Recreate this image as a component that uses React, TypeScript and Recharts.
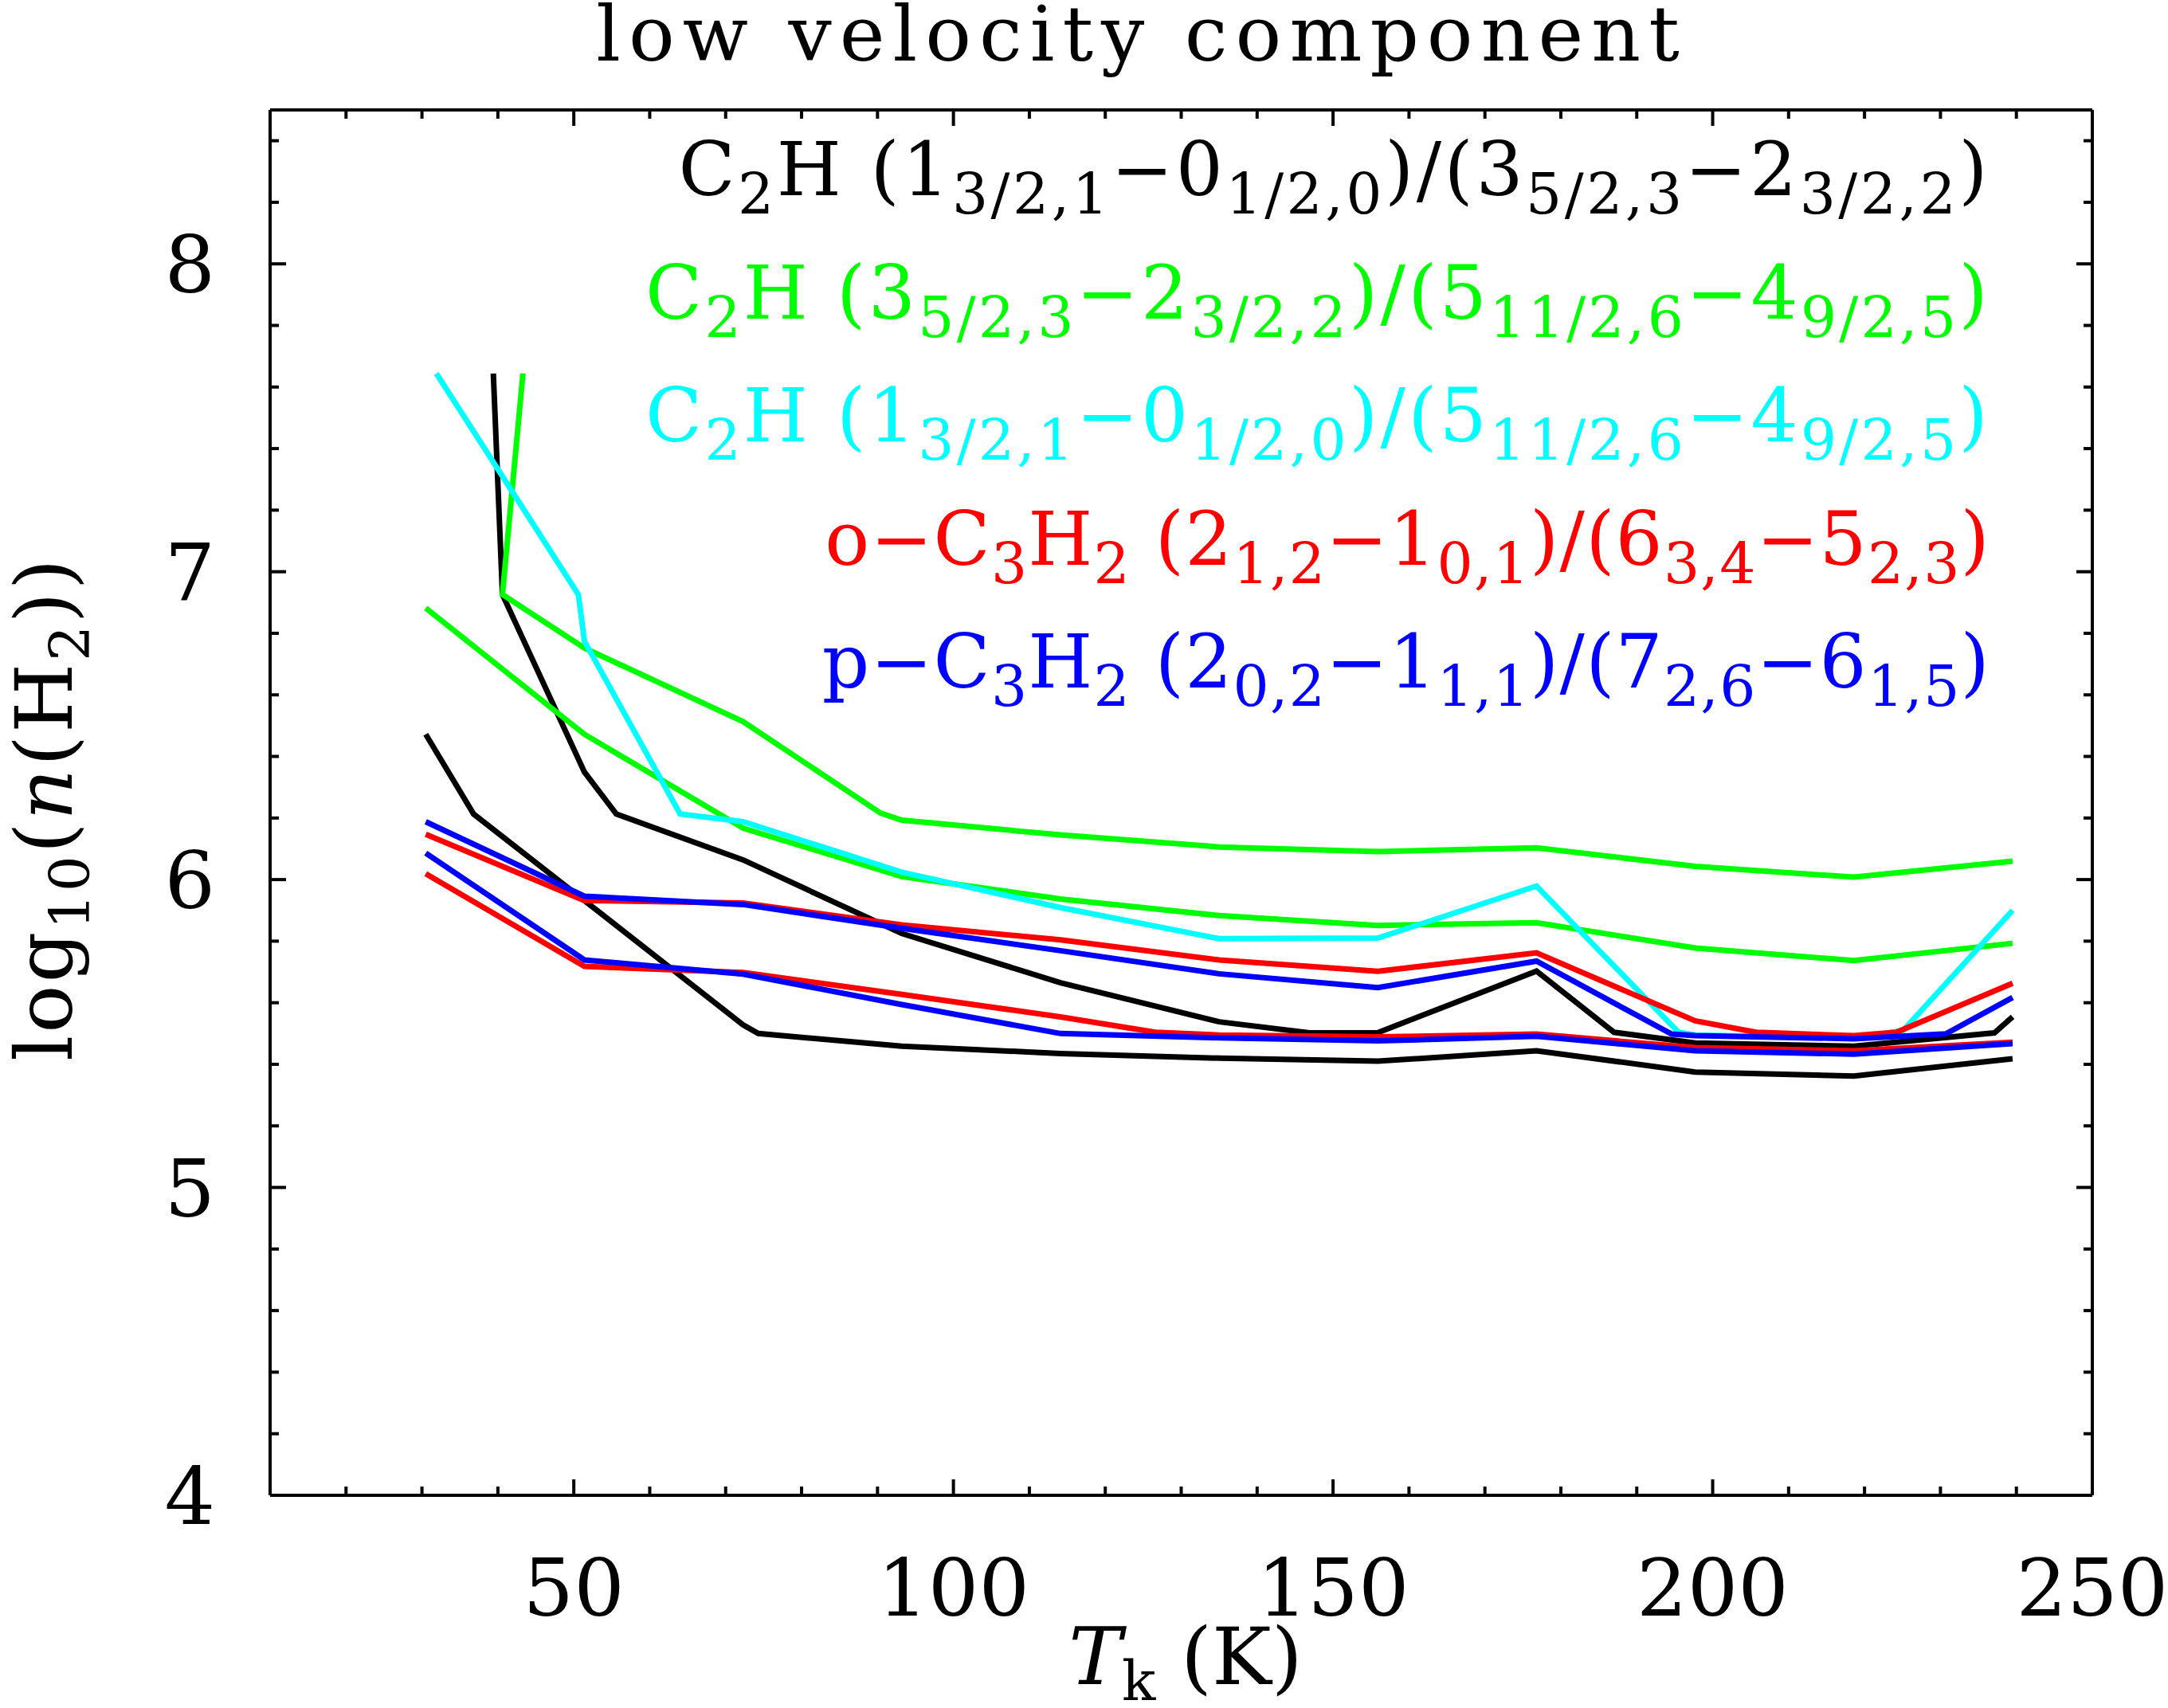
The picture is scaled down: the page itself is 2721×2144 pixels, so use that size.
import { LineChart, Line, XAxis, YAxis, Customized } from 'recharts';

const FONT = '"DejaVu Serif", serif';

// axis ticks
const tMajorTicks = [50, 100, 150, 200, 250];
const tMinorTicks = [20, 30, 40, 60, 70, 80, 90, 110, 120, 130, 140, 160, 170, 180, 190, 210, 220, 230, 240];
const nMajorTicks = [4, 5, 6, 7, 8];
const nMinorTicks = [4.2, 4.4, 4.6, 4.8, 5.2, 5.4, 5.6, 5.8, 6.2, 6.4, 6.6, 6.8, 7.2, 7.4, 7.6, 7.8, 8.2, 8.4];

// C2H (1-0)/(3-2), black
const c2h10_32_aT = [39.4, 40.6, 51.4, 55.6, 72.3, 93.2, 114.1, 135, 146.9, 155.9, 176.8, 187, 197.7, 218.6, 237.1, 239.5];
const c2h10_32_aN = [7.644, 6.926, 6.349, 6.213, 6.064, 5.825, 5.665, 5.538, 5.502, 5.503, 5.703, 5.504, 5.469, 5.459, 5.502, 5.554];
const c2h10_32_bT = [30.5, 36.8, 51.4, 72.3, 74.3, 93.2, 114.1, 135, 155.9, 176.8, 197.7, 218.6, 239.5];
const c2h10_32_bN = [6.472, 6.213, 5.932, 5.528, 5.5, 5.459, 5.435, 5.42, 5.41, 5.444, 5.375, 5.362, 5.418];

// C2H (3-2)/(5-4), green
const c2h32_54_aT = [43.3, 40.6, 51.4, 72.3, 90.4, 93.2, 114.1, 135, 155.9, 176.8, 197.7, 218.6, 239.5];
const c2h32_54_aN = [7.644, 6.926, 6.752, 6.513, 6.216, 6.193, 6.145, 6.106, 6.091, 6.103, 6.043, 6.008, 6.06];
const c2h32_54_bT = [30.5, 51.4, 72.3, 93.2, 114.1, 135, 155.9, 176.8, 197.7, 218.6, 239.5];
const c2h32_54_bN = [6.882, 6.472, 6.167, 6.01, 5.937, 5.883, 5.851, 5.86, 5.778, 5.737, 5.793];

// C2H (1-0)/(5-4), cyan
const c2h10_54_T = [31.9, 50.6, 51.4, 64.0, 72.3, 93.2, 114.1, 135, 155.9, 176.8, 195.5, 197.7, 218.6, 225.1, 239.5];
const c2h10_54_N = [7.644, 6.926, 6.774, 6.213, 6.188, 6.024, 5.909, 5.808, 5.81, 5.979, 5.504, 5.495, 5.485, 5.51, 5.9];

// o-C3H2 (2-1)/(6-5), red
const oc3h2_aT = [30.5, 51.4, 72.3, 93.2, 114.1, 135, 155.9, 176.8, 197.7, 205.7, 218.6, 224.2, 239.5];
const oc3h2_aN = [6.147, 5.932, 5.924, 5.853, 5.804, 5.739, 5.702, 5.762, 5.541, 5.504, 5.493, 5.504, 5.663];
const oc3h2_bT = [30.5, 51.4, 72.3, 93.2, 114.1, 126.6, 135, 155.9, 176.8, 197.7, 218.6, 239.5];
const oc3h2_bN = [6.019, 5.718, 5.698, 5.627, 5.554, 5.504, 5.495, 5.489, 5.498, 5.454, 5.444, 5.472];

// p-C3H2 (2-1)/(7-6), blue
const pc3h2_aT = [30.5, 51.4, 72.3, 93.2, 114.1, 135, 155.9, 176.8, 194.6, 197.7, 218.6, 230.7, 239.5];
const pc3h2_aN = [6.188, 5.946, 5.919, 5.842, 5.769, 5.694, 5.649, 5.735, 5.498, 5.493, 5.483, 5.499, 5.617];
const pc3h2_bT = [30.5, 51.4, 72.3, 93.2, 114.1, 135, 155.9, 176.8, 197.7, 218.6, 239.5];
const pc3h2_bN = [6.086, 5.739, 5.693, 5.594, 5.5, 5.486, 5.476, 5.491, 5.444, 5.433, 5.467];

const toPoints = (t: number[], n: number[]) => t.map((v, i) => ({ t: v, n: n[i] }));

const series = [
  { id: 'c2h10_32_a', color: '#000000', data: toPoints(c2h10_32_aT, c2h10_32_aN) },
  { id: 'c2h10_32_b', color: '#000000', data: toPoints(c2h10_32_bT, c2h10_32_bN) },
  { id: 'c2h32_54_a', color: '#00ff00', data: toPoints(c2h32_54_aT, c2h32_54_aN) },
  { id: 'c2h32_54_b', color: '#00ff00', data: toPoints(c2h32_54_bT, c2h32_54_bN) },
  { id: 'c2h10_54', color: '#00ffff', data: toPoints(c2h10_54_T, c2h10_54_N) },
  { id: 'oc3h2_a', color: '#ff0000', data: toPoints(oc3h2_aT, oc3h2_aN) },
  { id: 'oc3h2_b', color: '#ff0000', data: toPoints(oc3h2_bT, oc3h2_bN) },
  { id: 'pc3h2_a', color: '#0000ff', data: toPoints(pc3h2_aT, pc3h2_aN) },
  { id: 'pc3h2_b', color: '#0000ff', data: toPoints(pc3h2_bT, pc3h2_bN) },
];

// legend labels: [text, subscript?]
type Seg = [string, boolean];
const legendRows: { color: string; spacing: number; segs: Seg[] }[] = [
  {
    color: '#000000',
    spacing: 3.5,
    segs: [['C', false], ['2', true], ['H (1', false], ['3/2,1', true], ['\u22120', false], ['1/2,0', true],
      [')/(3', false], ['5/2,3', true], ['\u22122', false], ['3/2,2', true], [')', false]],
  },
  {
    color: '#00ff00',
    spacing: 3.3,
    segs: [['C', false], ['2', true], ['H (3', false], ['5/2,3', true], ['\u22122', false], ['3/2,2', true],
      [')/(5', false], ['11/2,6', true], ['\u22124', false], ['9/2,5', true], [')', false]],
  },
  {
    color: '#00ffff',
    spacing: 3.3,
    segs: [['C', false], ['2', true], ['H (1', false], ['3/2,1', true], ['\u22120', false], ['1/2,0', true],
      [')/(5', false], ['11/2,6', true], ['\u22124', false], ['9/2,5', true], [')', false]],
  },
  {
    color: '#ff0000',
    spacing: 1.2,
    segs: [['o\u2212C', false], ['3', true], ['H', false], ['2', true], [' (2', false], ['1,2', true],
      ['\u22121', false], ['0,1', true], [')/(6', false], ['3,4', true], ['\u22125', false], ['2,3', true], [')', false]],
  },
  {
    color: '#0000ff',
    spacing: 1.2,
    segs: [['p\u2212C', false], ['3', true], ['H', false], ['2', true], [' (2', false], ['0,2', true],
      ['\u22121', false], ['1,1', true], [')/(7', false], ['2,6', true], ['\u22126', false], ['1,5', true], [')', false]],
  },
];

const LEGEND_X = 2498;
const LEGEND_Y0 = 245;
const LEGEND_STEP = 154.5;
const LEGEND_SIZE = 93;
const SUB_SIZE = 71;
const SUB_DY = 23;

function renderSegs(segs: Seg[]) {
  let shifted = false;
  return segs.map(([txt, sub], i) => {
    let dy = 0;
    if (sub && !shifted) { dy = SUB_DY; shifted = true; }
    if (!sub && shifted) { dy = -SUB_DY; shifted = false; }
    return (
      <tspan key={i} dy={dy} fontSize={sub ? SUB_SIZE : undefined}>{txt}</tspan>
    );
  });
}

function Annotations() {
  return (
    <g fontFamily={FONT}>
      <text x={1433} y={76} fontSize={96} textAnchor="middle" letterSpacing={10} fill="#000">
        low velocity component
      </text>
      <text x={1488} y={2114} fontSize={100} textAnchor="middle" fill="#000">
        <tspan fontStyle="italic">T</tspan>
        <tspan fontSize={70} dy={20}>k</tspan>
        <tspan dy={-20}> (K)</tspan>
      </text>
      <text transform="translate(90,1015) rotate(-90)" fontSize={100} textAnchor="middle"
        letterSpacing={3} fill="#000">
        <tspan>log</tspan>
        <tspan fontSize={70} dy={22}>10</tspan>
        <tspan dy={-22}>(</tspan>
        <tspan fontStyle="italic">n</tspan>
        <tspan>(H</tspan>
        <tspan fontSize={70} dy={22}>2</tspan>
        <tspan dy={-22}>))</tspan>
      </text>
      {legendRows.map((row, i) => (
        <text key={i} x={LEGEND_X} y={LEGEND_Y0 + i * LEGEND_STEP} fontSize={LEGEND_SIZE}
          textAnchor="end" letterSpacing={row.spacing} fill={row.color}>
          {renderSegs(row.segs)}
        </text>
      ))}
    </g>
  );
}

// inward ticks drawn by hand; tickSize/tickMargin are 0 so (x, y) sits on the axis line
const MAJOR = 20;
const MINOR = 12;
const TICK_W = 4;

type TickProps = { x: number; y: number; payload: { value: number } };

function bottomTick(len: number, label: boolean) {
  return ({ x, y, payload }: TickProps) => (
    <g>
      <line x1={x} x2={x} y1={y} y2={y - len} stroke="#000" strokeWidth={TICK_W} />
      {label && (
        <text x={x} y={y + 151} textAnchor="middle" fontSize={100} fontFamily={FONT} fill="#000">
          {payload.value}
        </text>
      )}
    </g>
  );
}

function topTick(len: number) {
  return ({ x, y }: TickProps) => (
    <line x1={x} x2={x} y1={y} y2={y + len} stroke="#000" strokeWidth={TICK_W} />
  );
}

function leftTick(len: number, label: boolean) {
  return ({ x, y, payload }: TickProps) => (
    <g>
      <line x1={x} x2={x + len} y1={y} y2={y} stroke="#000" strokeWidth={TICK_W} />
      {label && (
        <text x={x - 69} y={y + 36} textAnchor="end" fontSize={100} fontFamily={FONT} fill="#000">
          {payload.value}
        </text>
      )}
    </g>
  );
}

function rightTick(len: number) {
  return ({ x, y }: TickProps) => (
    <line x1={x} x2={x - len} y1={y} y2={y} stroke="#000" strokeWidth={TICK_W} />
  );
}

const frame = { stroke: '#000', strokeWidth: 4 };

export default function App() {
  return (
    <div style={{ position: 'absolute', left: 0, top: 0, background: '#fff' }}>
      <LineChart width={2721} height={2144} margin={{ top: 136, right: 93, bottom: 265, left: 337 }}>
        <XAxis xAxisId="t" dataKey="t" type="number" domain={[10, 250]} allowDataOverflow
          ticks={tMajorTicks} interval={0} height={1} tickSize={0} tickMargin={0}
          axisLine={frame} tickLine={false} tick={bottomTick(MAJOR, true)} />
        <XAxis xAxisId="tMinor" dataKey="t" type="number" domain={[10, 250]} allowDataOverflow
          ticks={tMinorTicks} interval={0} height={1} tickSize={0} tickMargin={0}
          axisLine={false} tickLine={false} tick={bottomTick(MINOR, false)} />
        <XAxis xAxisId="tTop" orientation="top" dataKey="t" type="number" domain={[10, 250]} allowDataOverflow
          ticks={tMajorTicks} interval={0} height={1} tickSize={0} tickMargin={0}
          axisLine={frame} tickLine={false} tick={topTick(MAJOR)} />
        <XAxis xAxisId="tTopMinor" orientation="top" dataKey="t" type="number" domain={[10, 250]} allowDataOverflow
          ticks={tMinorTicks} interval={0} height={1} tickSize={0} tickMargin={0}
          axisLine={false} tickLine={false} tick={topTick(MINOR)} />
        <YAxis yAxisId="n" dataKey="n" type="number" domain={[4, 8.5]} allowDataOverflow
          ticks={nMajorTicks} interval={0} width={1} tickSize={0} tickMargin={0}
          axisLine={frame} tickLine={false} tick={leftTick(MAJOR, true)} />
        <YAxis yAxisId="nMinor" dataKey="n" type="number" domain={[4, 8.5]} allowDataOverflow
          ticks={nMinorTicks} interval={0} width={1} tickSize={0} tickMargin={0}
          axisLine={false} tickLine={false} tick={leftTick(MINOR, false)} />
        <YAxis yAxisId="nRight" orientation="right" dataKey="n" type="number" domain={[4, 8.5]} allowDataOverflow
          ticks={nMajorTicks} interval={0} width={1} tickSize={0} tickMargin={0}
          axisLine={frame} tickLine={false} tick={rightTick(MAJOR)} />
        <YAxis yAxisId="nRightMinor" orientation="right" dataKey="n" type="number" domain={[4, 8.5]} allowDataOverflow
          ticks={nMinorTicks} interval={0} width={1} tickSize={0} tickMargin={0}
          axisLine={false} tickLine={false} tick={rightTick(MINOR)} />
        {series.map((s) => (
          <Line key={s.id} xAxisId="t" yAxisId="n" data={s.data} dataKey="n" stroke={s.color}
            strokeWidth={7} dot={false} activeDot={false} isAnimationActive={false} />
        ))}
        <Customized component={<Annotations />} />
      </LineChart>
    </div>
  );
}
